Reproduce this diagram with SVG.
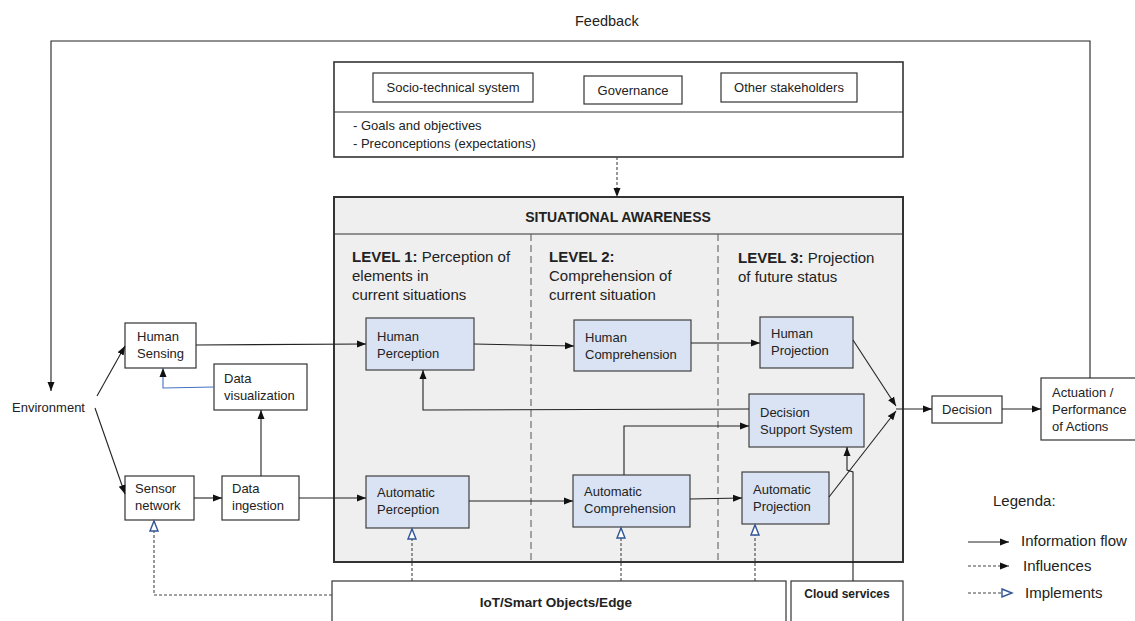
<svg xmlns="http://www.w3.org/2000/svg" width="1135" height="621" viewBox="0 0 1135 621">
<style>
.t{font-family:"Liberation Sans",Arial,sans-serif;font-size:13px;fill:#222}
.lv{font-family:"Liberation Sans",Arial,sans-serif;font-size:15px;fill:#222}
.b{font-weight:bold}
.box{fill:#fff;stroke:#333;stroke-width:1.2}
.nb{fill:#dae3f3;stroke:#404040;stroke-width:1.2}
.c{fill:none;stroke:#222;stroke-width:1.1}
.d{fill:none;stroke:#444;stroke-width:1.1;stroke-dasharray:3 2}
.vd{fill:none;stroke:#555;stroke-width:1;stroke-dasharray:7 4}
</style>
<defs>
<marker id="arr" markerUnits="userSpaceOnUse" markerWidth="10" markerHeight="8" refX="9" refY="4" orient="auto"><path d="M0,0.5 L9,4 L0,7.5 z" fill="#111"/></marker>
<marker id="hol" markerUnits="userSpaceOnUse" markerWidth="13" markerHeight="11" refX="11" refY="5" orient="auto"><path d="M1,1 L11,5 L1,9 z" fill="#fff" stroke="#2f5597" stroke-width="1.4"/></marker>
</defs>
<rect width="1135" height="621" fill="#fff"/>

<text class="t" x="575" y="26" style="font-size:14.5px">Feedback</text>

<g id="context">
<rect class="box" x="334" y="62" width="569" height="95" style="stroke-width:1.6"/>
<line x1="334" y1="112" x2="903" y2="112" stroke="#333" stroke-width="1.2"/>
<text class="t" x="353" y="130">-  Goals and objectives</text>
<text class="t" x="353" y="148">-  Preconceptions (expectations)</text>
</g>
<g id="socio"><rect class="box" x="373" y="73" width="160" height="29"/><text class="t" x="453" y="92" text-anchor="middle">Socio-technical  system</text></g>
<g id="governance"><rect class="box" x="584" y="76" width="98" height="28"/><text class="t" x="633" y="95" text-anchor="middle">Governance</text></g>
<g id="stakeholders"><rect class="box" x="721" y="73" width="136" height="29"/><text class="t" x="789" y="92" text-anchor="middle">Other stakeholders</text></g>

<g id="situational-awareness">
<rect x="334" y="197" width="569" height="365" fill="#efefef" stroke="#333" stroke-width="2"/>
<line x1="334" y1="234" x2="903" y2="234" stroke="#333" stroke-width="1.2"/>
<text class="t b" x="618" y="222" text-anchor="middle" style="font-size:14px">SITUATIONAL AWARENESS</text>
<line class="vd" x1="531" y1="234" x2="531" y2="562"/>
<line class="vd" x1="718" y1="234" x2="718" y2="562"/>
<text class="lv" x="352" y="262"><tspan class="b">LEVEL 1:</tspan> Perception of</text>
<text class="lv" x="352" y="281">elements in</text>
<text class="lv" x="352" y="300">current situations</text>
<text class="lv" x="549" y="262"><tspan class="b">LEVEL 2:</tspan></text>
<text class="lv" x="549" y="281">Comprehension of</text>
<text class="lv" x="549" y="300">current situation</text>
<text class="lv" x="738" y="263"><tspan class="b">LEVEL 3:</tspan> Projection</text>
<text class="lv" x="738" y="282">of future status</text>
</g>

<g id="human-perception"><rect class="nb" x="366" y="318" width="108" height="52"/><text class="t" x="377" y="341">Human</text><text class="t" x="377" y="358">Perception</text></g>
<g id="human-comprehension"><rect class="nb" x="574" y="320" width="117" height="51"/><text class="t" x="585" y="342">Human</text><text class="t" x="585" y="359">Comprehension</text></g>
<g id="human-projection"><rect class="nb" x="760" y="317" width="93" height="51"/><text class="t" x="771" y="338">Human</text><text class="t" x="771" y="355">Projection</text></g>
<g id="dss"><rect class="nb" x="749" y="394" width="115" height="53"/><text class="t" x="760" y="417">Decision</text><text class="t" x="760" y="434">Support System</text></g>
<g id="automatic-perception"><rect class="nb" x="366" y="476" width="103" height="52"/><text class="t" x="377" y="497">Automatic</text><text class="t" x="377" y="514">Perception</text></g>
<g id="automatic-comprehension"><rect class="nb" x="573" y="475" width="117" height="52"/><text class="t" x="584" y="496">Automatic</text><text class="t" x="584" y="513">Comprehension</text></g>
<g id="automatic-projection"><rect class="nb" x="742" y="472" width="87" height="52"/><text class="t" x="753" y="494">Automatic</text><text class="t" x="753" y="511">Projection</text></g>

<g id="environment"><text class="t" x="12" y="412">Environment</text></g>
<g id="human-sensing"><rect class="box" x="125" y="323" width="71" height="45"/><text class="t" x="137" y="341">Human</text><text class="t" x="137" y="358">Sensing</text></g>
<g id="data-visualization"><rect class="box" x="214" y="364" width="93" height="46"/><text class="t" x="224" y="383">Data</text><text class="t" x="224" y="400">visualization</text></g>
<g id="sensor-network"><rect class="box" x="125" y="476" width="69" height="44"/><text class="t" x="135" y="493">Sensor</text><text class="t" x="135" y="510">network</text></g>
<g id="data-ingestion"><rect class="box" x="222" y="476" width="77" height="44"/><text class="t" x="232" y="493">Data</text><text class="t" x="232" y="510">ingestion</text></g>

<g id="decision"><rect class="box" x="932" y="396" width="70" height="27"/><text class="t" x="967" y="414" text-anchor="middle">Decision</text></g>
<g id="actuation"><rect class="box" x="1041" y="378" width="96" height="62"/><text class="t" x="1052" y="397">Actuation /</text><text class="t" x="1052" y="414">Performance</text><text class="t" x="1052" y="431">of Actions</text></g>

<g id="iot"><rect class="box" x="332" y="581" width="454" height="45"/><text class="t b" x="556" y="607" text-anchor="middle" style="font-size:13.5px">IoT/Smart Objects/Edge</text></g>
<g id="cloud"><rect class="box" x="791" y="581" width="112" height="45"/><text class="t b" x="847" y="598" text-anchor="middle" style="font-size:12px">Cloud services</text></g>

<g id="connectors">
<path class="c" d="M1090,378 V41 H51 V391" marker-end="url(#arr)"/>
<path class="d" d="M617,157 V197" marker-end="url(#arr)"/>
<path class="c" d="M97,396 L125,346" marker-end="url(#arr)"/>
<path class="c" d="M95,408 L125,494" marker-end="url(#arr)"/>
<path class="c" d="M196,345 L366,344" marker-end="url(#arr)"/>
<path fill="none" stroke="#4472c4" stroke-width="1.1" d="M214,387 L163,388 V368" marker-end="url(#arr)"/>
<path class="c" d="M261,476 V410" marker-end="url(#arr)"/>
<path class="c" d="M194,498 H222" marker-end="url(#arr)"/>
<path class="c" d="M299,498 H366" marker-end="url(#arr)"/>
<path class="c" d="M474,344 L574,346" marker-end="url(#arr)"/>
<path class="c" d="M691,343 H760" marker-end="url(#arr)"/>
<path class="c" d="M469,501 H573" marker-end="url(#arr)"/>
<path class="c" d="M690,499 L742,498" marker-end="url(#arr)"/>
<path class="c" d="M624,475 V426 H749" marker-end="url(#arr)"/>
<path class="c" d="M749,409 L423,410 V370" marker-end="url(#arr)"/>
<path class="c" d="M853,340 L896,406" marker-end="url(#arr)"/>
<path class="c" d="M829,497 L896,411" marker-end="url(#arr)"/>
<path class="c" d="M896,409 H932" marker-end="url(#arr)"/>
<path class="c" d="M1002,409 H1041" marker-end="url(#arr)"/>
<path class="c" d="M853,581 V472 L847,470 V447" marker-end="url(#arr)"/>
<path class="d" d="M412,581 V529" marker-end="url(#hol)"/>
<path class="d" d="M621,581 V528" marker-end="url(#hol)"/>
<path class="d" d="M755,581 V525" marker-end="url(#hol)"/>
<path class="d" d="M332,595 H154 V521" marker-end="url(#hol)"/>
</g>

<g id="legend">
<text class="t" x="993" y="506" style="font-size:15px">Legenda:</text>
<path class="c" d="M968,542 H1009" marker-end="url(#arr)"/>
<text class="t" x="1021" y="546" style="font-size:15px">Information flow</text>
<path class="d" d="M968,566 H1009" marker-end="url(#arr)"/>
<text class="t" x="1023" y="571" style="font-size:15px">Influences</text>
<path class="d" d="M968,593 H1012" marker-end="url(#hol)"/>
<text class="t" x="1025" y="598" style="font-size:15px">Implements</text>
</g>
</svg>
